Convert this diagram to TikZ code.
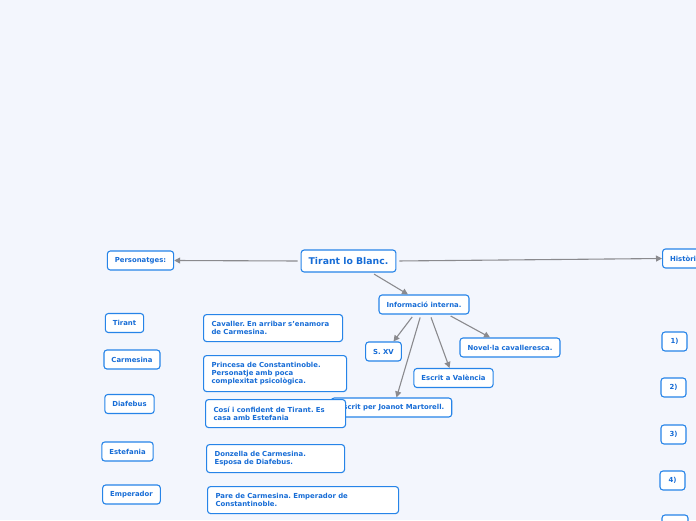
\documentclass[tikz,border=0pt]{standalone}
\usepackage{fontspec}
\setmainfont{DejaVu Sans}
\frenchspacing
\usetikzlibrary{arrows.meta}
\definecolor{mapbg}{RGB}{243,246,253}
\definecolor{mapblue}{RGB}{38,132,232}
\definecolor{maptext}{RGB}{22,108,214}
\definecolor{mapgray}{RGB}{138,138,142}
\tikzset{
  topic/.style={draw=mapblue,fill=white,rounded corners=3pt,line width=1.1pt,text=maptext,
    font=\bfseries\fontsize{6.9}{8.4}\selectfont,inner xsep=7.5pt,inner ysep=0pt,minimum height=19pt},
  note/.style={topic,anchor=north west,align=left,inner xsep=8pt},
  link/.style={draw=mapgray,line width=1.1pt,-{Triangle[length=6pt,width=6pt]},shorten <=3pt}
}

\begin{document}
\begin{tikzpicture}[x=1pt,y=-1pt]
\useasboundingbox (0,0) rectangle (696,520);
\fill[mapbg] (0,0) rectangle (696,520);
\clip (0,0) rectangle (696,520);
\node[topic,font=\bfseries\fontsize{9.3}{11}\selectfont,minimum height=22pt] (title) at (348.5,261) {Tirant lo Blanc.};
\node[topic] (pers) at (140.5,260.5) {Personatges:};
\node[topic,anchor=west] (hist) at (662,258.5) {Història};
\node[topic] (info) at (424,304.5) {Informació interna.};
\node[topic] (sxv) at (383.5,351.5) {S. XV};
\node[topic] (novella) at (510,347.5) {Novel·la cavalleresca.};
\node[topic] (valencia) at (453.5,378) {Escrit a València};
\node[topic] (autor) at (391.5,407.5) {Escrit per Joanot Martorell.};
\draw[link] (title.west) -- (pers.east);
\draw[link] (title.east) -- (hist.west);
\draw[link] ([xshift=23]title.south) -- ([xshift=-16]info.north);
\draw[link] ([xshift=-10]info.south) -- ([xshift=10]sxv.north);
\draw[link] ([xshift=-3]info.south) -- ([xshift=5]autor.north);
\draw[link] ([xshift=6]info.south) -- ([xshift=-4]valencia.north);
\draw[link] ([xshift=24]info.south) -- ([xshift=-20]novella.north);
\foreach \x/\y/\name/\txt in {124.5/323/tirant/Tirant,132/359.5/carmesina/Carmesina,129.5/404/diafebus/Diafebus,127.5/451.5/estefania/Estefania,131.5/494.5/emperador/Emperador}
  \node[topic] (\name) at (\x,\y) {\txt};
\node[note,text width=123pt,minimum height=27pt] (dtirant) at (203,314) {Cavaller. En arribar s'enamora\\de Carmesina.};
\node[note,text width=127pt,minimum height=36pt] (dcarmesina) at (203,355) {Princesa de Constantinoble.\\Personatje amb poca\\complexitat psicològica.};
\node[note,text width=124pt,minimum height=28pt] (ddiafebus) at (205,399) {Cosí i confident de Tirant. Es\\casa amb Estefania};
\node[note,text width=122pt,minimum height=28pt] (destefania) at (206,444) {Donzella de Carmesina.\\Esposa de Diafebus.};
\node[note,text width=175pt,minimum height=27pt] (demperador) at (207,486) {Pare de Carmesina. Emperador de\\Constantinoble.};
\foreach \n/\x/\y in {1/674.5/341.5,2/673.5/387.5,3/673.5/434.5,4/672.5/480.5}
  \node[topic,minimum width=25pt,inner xsep=3pt] (num\n) at (\x,\y) {\n)};
\node[topic,minimum width=26pt,inner xsep=3pt] (num5) at (675,524.5) {};
\end{tikzpicture}
\end{document}
